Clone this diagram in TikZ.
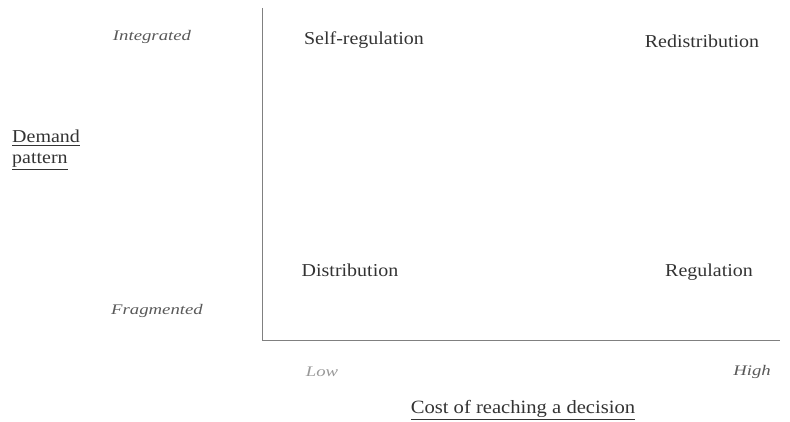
\documentclass[tikz,border=0pt]{standalone}
\usepackage{fontspec}
\setmainfont{Liberation Serif}[FakeStretch=1.1]
\newfontfamily\levelfont{Liberation Serif}[FakeStretch=1.28]
\tikzset{
  >=latex,
}
\tikzstyle{every node}=[font=\fontsize{15.5}{15.5}\selectfont,text=black!80,inner sep=0pt]
\tikzstyle{cell}=[anchor=center]
\tikzstyle{level}=[font=\fontsize{12.5}{14}\levelfont\itshape,text=black!65]
\tikzstyle{axistitle}=[align=left]
\tikzstyle{axis}=[draw=black!50,line width=.6pt]

\begin{document}
\begin{tikzpicture}[x=.3mm,y=-.3mm]
  \useasboundingbox (0,0) rectangle (790,422);
  \coordinate (top) at (262,8);
  \coordinate (origin) at (262,340);
  \coordinate (right) at (780,340);
  \draw[axis] (top)--(origin)--(right);
  \node[cell] (selfreg) at (364,40) {Self-regulation};
  \node[cell] (redist) at (702,41) {Redistribution};
  \node[cell] (dist) at (350,270) {Distribution};
  \node[cell] (reg) at (709,272) {Regulation};
  \node[level] (integrated) at (152,37) {Integrated};
  \node[level] (fragmented) at (157,311) {Fragmented};
  \node[level,text=black!40] (low) at (322,372) {Low};
  \node[level] (high) at (752,372) {High};
  \node[axistitle,anchor=west] (demand) at (12,150) {\underline{Demand}\\[2pt]\underline{pattern}};
  \node[axistitle,font=\fontsize{16}{16}\selectfont] (cost) at (523,410) {\underline{Cost of reaching a decision}};
\end{tikzpicture}
\end{document}
